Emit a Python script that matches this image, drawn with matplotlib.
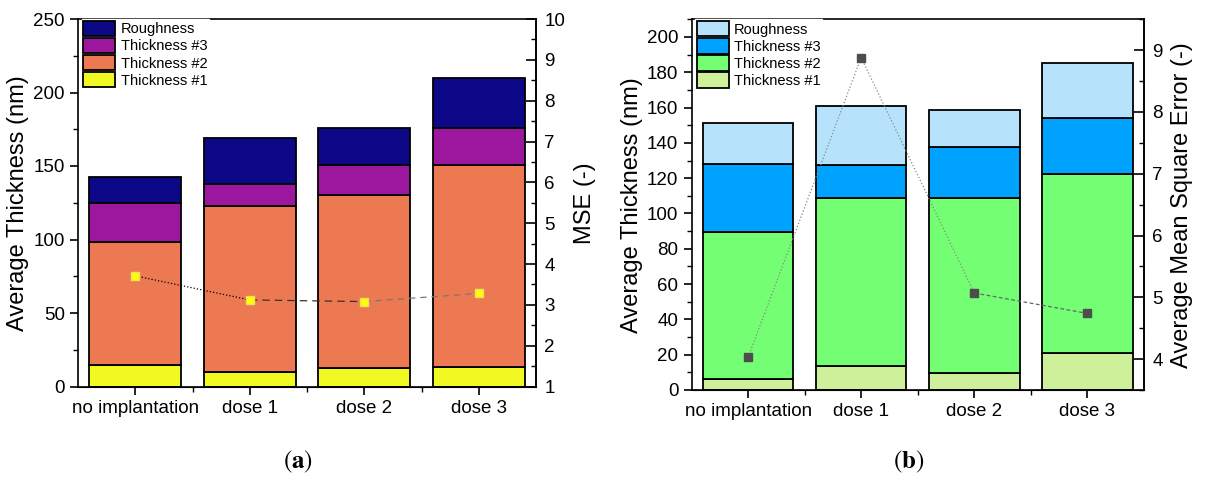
import matplotlib.pyplot as plt
from matplotlib.patches import Patch
from matplotlib.ticker import MultipleLocator, FixedLocator

plt.rcParams['font.family'] = ['Liberation Sans', 'DejaVu Sans']
plt.rcParams['mathtext.fontset'] = 'stix'

categories = ["no implantation", "dose 1", "dose 2", "dose 3"]
layers = ["Thickness #1", "Thickness #2", "Thickness #3", "Roughness"]

# panel (a): layer thicknesses (nm), bottom to top
a_t1 = [14.3, 9.7, 12.9, 13.6]
a_t2 = [84.3, 113.1, 117.1, 136.9]
a_t3 = [26.4, 14.8, 20.7, 25.5]
a_rough = [17.8, 31.4, 25.3, 34.0]
a_mse = [3.71, 3.12, 3.08, 3.28]

# panel (b)
b_t1 = [6.0, 13.6, 9.4, 21.1]
b_t2 = [83.6, 95.1, 99.6, 101.2]
b_t3 = [38.4, 19.0, 28.7, 32.0]
b_rough = [23.3, 33.4, 20.8, 31.2]
b_mse = [4.03, 8.88, 5.07, 4.74]

a_colors = ["#f0f921", "#ed7953", "#9c179e", "#0d0887"]
b_colors = ["#cff09a", "#73fe73", "#00a2ff", "#b6e2fb"]

W, H = 1208, 479
fig = plt.figure(figsize=(W / 100, H / 100), dpi=100)


def box(l, r, t, b):
    return [l / W, 1 - b / H, (r - l) / W, (b - t) / H]


def panel(rect, stacks, colors, mse, ylim, ymaj, ymin, y2lim, y2maj, y2label,
          mcolor, medge, line_styles, leg_x):
    ax = fig.add_axes(rect)
    x = range(len(categories))
    bottom = [0] * len(categories)
    for vals, c in zip(stacks, colors):
        ax.bar(x, vals, 0.8, bottom=bottom, color=c, edgecolor="black", linewidth=1.3)
        bottom = [b + v for b, v in zip(bottom, vals)]
    ax.set_xlim(-0.5, 3.5)
    ax.set_ylim(*ylim)
    ax.set_xticks(list(x))
    ax.set_xticklabels(categories, fontsize=13.5)
    ax.xaxis.set_minor_locator(FixedLocator([0.5, 1.5, 2.5]))
    ax.yaxis.set_major_locator(MultipleLocator(ymaj))
    ax.yaxis.set_minor_locator(MultipleLocator(ymin))
    ax.tick_params(which="major", length=6, width=1.2, labelsize=13.5)
    ax.tick_params(which="minor", length=3.5, width=1.0)
    ax.set_ylabel("Average Thickness (nm)", fontsize=17, labelpad=3)
    for s in ax.spines.values():
        s.set_linewidth(1.2)

    ax2 = ax.twinx()
    ax2.set_ylim(*y2lim)
    ax2.yaxis.set_major_locator(MultipleLocator(y2maj))
    ax2.yaxis.set_minor_locator(MultipleLocator(0.5))
    ax2.tick_params(which="major", direction="in", length=7, width=1.2, labelsize=13.5, pad=6)
    ax2.tick_params(which="minor", direction="in", length=3.5, width=1.0)
    ax2.set_ylabel(y2label, fontsize=17, labelpad=6)
    ax2.spines["top"].set_visible(False)
    ax2.spines["left"].set_visible(False)
    ax2.spines["right"].set_linewidth(1.2)
    for i in range(len(mse) - 1):
        col, ls = line_styles[i]
        ax2.plot([i, i + 1], mse[i:i + 2], color=col, linestyle=ls, linewidth=0.9)
    ax2.plot(list(x), mse, linestyle="none", marker="s", markersize=6,
             markerfacecolor=mcolor, markeredgecolor=medge, zorder=4)

    handles = [Patch(facecolor=c, edgecolor="black", linewidth=1.3, label=l)
               for c, l in zip(colors, layers)][::-1]
    leg = ax2.legend(handles=handles, loc="upper left", bbox_to_anchor=(leg_x, 1.0),
                     borderaxespad=0, fontsize=10.5, frameon=True, fancybox=False,
                     handlelength=2.2, handleheight=1.25, labelspacing=0.1,
                     handletextpad=0.35, borderpad=0.12)
    leg.get_frame().set_facecolor("white")
    leg.get_frame().set_edgecolor("white")
    leg.get_frame().set_alpha(1)
    return ax, ax2


panel(box(78, 536, 19, 386.5), [a_t1, a_t2, a_t3, a_rough], a_colors, a_mse,
      (0, 250), 50, 25, (1, 10), 1, "MSE (-)", "#ffff00", "#f0e060",
      [("black", ":"), ("#333333", (0, (6, 4))), ("#777777", (0, (5, 4)))], 0.008)

panel(box(691.5, 1144, 19.3, 390), [b_t1, b_t2, b_t3, b_rough], b_colors, b_mse,
      (0, 210), 20, 10, (3.5, 9.5), 1, "Average Mean Square Error (-)",
      "#4d4d4d", "#4d4d4d",
      [("#888888", ":"), ("#888888", ":"), ("#666666", (0, (3, 2)))], 0.008)

fig.text(298 / W, 1 - 462 / H, r"$(\mathbf{a})$", fontsize=18, ha="center", va="center")
fig.text(909 / W, 1 - 462 / H, r"$(\mathbf{b})$", fontsize=18, ha="center", va="center")

fig.savefig("out.png", dpi=100)
